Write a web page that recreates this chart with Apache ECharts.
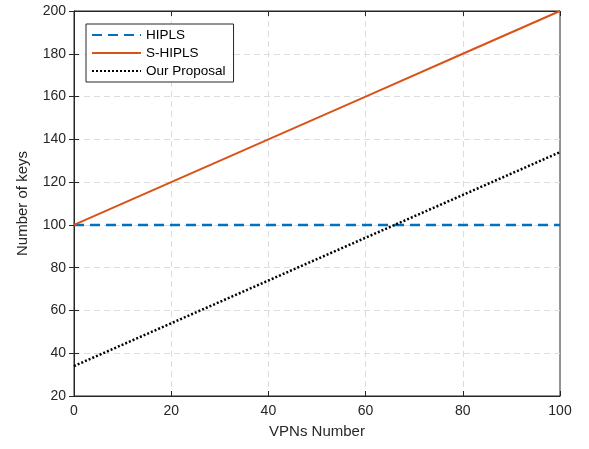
<!DOCTYPE html>
<html>
<head>
<meta charset="utf-8">
<script src="https://cdn.jsdelivr.net/npm/echarts@6/dist/echarts.min.js"></script>
<style>
  html, body { margin: 0; padding: 0; background: #fff; }
  #chart { width: 589px; height: 449px; }
</style>
</head>
<body>
<div id="chart"></div>
<script>
// x values (VPNs number)
var vpns = [0, 20, 40, 60, 80, 100];
// number of keys per scheme
var hipls = [100, 100, 100, 100, 100, 100];
var shipls = [100, 120, 140, 160, 180, 200];
var proposal = [34, 54, 74, 94, 114, 134];

function pairs(ys) {
    return vpns.map((x, i) => [x, ys[i]]);
}

var font = 'Liberation Sans';
var ink = '#262626';

var option = {
    animation: false,
    textStyle: { fontFamily: font },
    grid: {
        left: 74, right: 29, top: 11, bottom: 53,
        show: true, borderColor: ink, borderWidth: 1
    },
    legend: {
        orient: 'vertical',
        left: 86, top: 24,
        padding: [4, 8, 4, 5],
        itemWidth: 49, itemHeight: 12, itemGap: 4,
        borderColor: ink, borderWidth: 1, backgroundColor: '#fff',
        itemStyle: { opacity: 0 },
        textStyle: { fontSize: 13.5, color: '#000', fontFamily: font },
        data: ['HIPLS', 'S-HIPLS', 'Our Proposal']
    },
    xAxis: [{
        type: 'value', min: 0, max: 100, interval: 20,
        name: 'VPNs Number', nameLocation: 'middle', nameGap: 28,
        nameTextStyle: { fontSize: 15, color: ink },
        axisLine: { lineStyle: { color: ink } },
        axisTick: { inside: true, length: 5, lineStyle: { color: ink } },
        axisLabel: { fontSize: 14, color: ink, margin: 8 },
        splitLine: { show: true, showMinLine: false, showMaxLine: false,
                     lineStyle: { color: '#dcdcdc', type: [6, 4] } }
    }, {
        type: 'value', min: 0, max: 100, interval: 20, position: 'top',
        axisLine: { lineStyle: { color: ink } },
        axisTick: { inside: true, length: 5, lineStyle: { color: ink } },
        axisLabel: { show: false }, splitLine: { show: false }
    }],
    yAxis: [{
        type: 'value', min: 20, max: 200, interval: 20,
        name: 'Number of keys', nameLocation: 'middle', nameGap: 44,
        nameTextStyle: { fontSize: 15, color: ink },
        axisLine: { show: true, lineStyle: { color: ink } },
        axisTick: { show: true, inside: true, length: 5, lineStyle: { color: ink } },
        axisLabel: { fontSize: 14, color: ink, margin: 8 },
        splitLine: { show: true, showMinLine: false, showMaxLine: false,
                     lineStyle: { color: '#dcdcdc', type: [6, 4] } }
    }, {
        type: 'value', min: 20, max: 200, interval: 20, position: 'right',
        axisLine: { show: true, lineStyle: { color: ink } },
        axisTick: { show: true, inside: true, length: 5, lineStyle: { color: ink } },
        axisLabel: { show: false }, splitLine: { show: false }
    }],
    series: [{
        name: 'HIPLS', type: 'line', symbol: 'none',
        data: pairs(hipls),
        lineStyle: { color: '#0072BD', width: 2.5, type: [10, 6] },
        itemStyle: { color: '#0072BD' }
    }, {
        name: 'S-HIPLS', type: 'line', symbol: 'none',
        data: pairs(shipls),
        lineStyle: { color: '#D95319', width: 2 },
        itemStyle: { color: '#D95319' }
    }, {
        name: 'Our Proposal', type: 'line', symbol: 'none',
        data: pairs(proposal),
        lineStyle: { color: '#000', width: 2.5, type: [2, 2] },
        itemStyle: { color: '#000' }
    }]
};

var chart = echarts.init(document.getElementById('chart'));
chart.setOption(option);
</script>
</body>
</html>
